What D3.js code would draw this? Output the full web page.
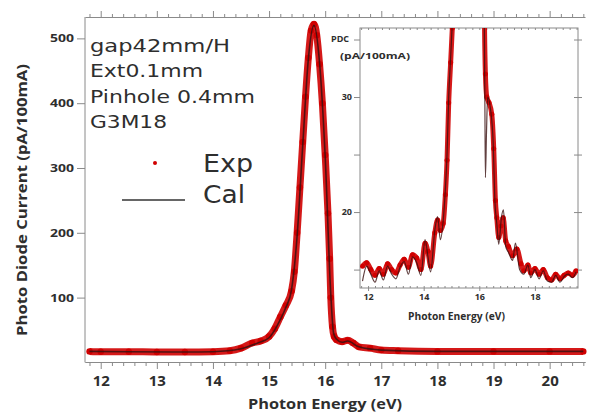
<!DOCTYPE html>
<html><head><meta charset="utf-8">
<script src="https://cdn.jsdelivr.net/npm/d3@7"></script>
<style>html,body{margin:0;padding:0;background:#fff;} svg{display:block;}</style>
</head><body><svg id="c" width="589" height="413"></svg>
<script>
// ---------- data ----------
const mainExpE = [11.8,12.0,12.5,13.0,13.5,14.0,14.3,14.5,14.7,14.85,15.0,15.1,15.2,15.3,15.4,15.45,15.5,15.55,15.6,15.65,15.7,15.75,15.8,15.85,15.9,15.95,16.0,16.05,16.08,16.1,16.13,16.16,16.2,16.3,16.4,16.5,16.6,16.8,17.0,17.3,18.0,19.0,20.0,20.6];
const mainExpV = [17,16.5,16.5,16,16,16.5,18,22,30,33,40,52,70,88,110,140,200,270,340,410,470,512,522,505,460,400,320,230,160,100,55,40,35,32,34,30,24,22,19,18,17,17,17,17];
const mainCalE = [11.8,12.5,13.5,14.0,14.5,14.8,15.0,15.2,15.3,15.4,15.5,15.6,15.7,15.8,15.9,16.0,16.1,16.15,16.2,16.3,16.4,16.6,17.0,18.0,20.6];
const mainCalV = [17,16.5,16,16.5,21,30,38,66,85,112,195,335,468,520,462,318,105,45,36,31,33,24,19,17,17];

const insetExpE = [11.8,11.95,12.1,12.25,12.4,12.55,12.7,12.85,13.0,13.15,13.3,13.45,13.6,13.75,13.9,14.05,14.15,14.25,14.4,14.5,14.6,14.7,14.78,14.84,14.9,14.97,15.03,15.1,15.5,15.8,16.1,16.18,16.22,16.27,16.35,16.45,16.52,16.58,16.63,16.7,16.78,16.86,16.95,17.05,17.2,17.35,17.5,17.6,17.75,17.85,18.0,18.15,18.3,18.45,18.6,18.75,18.9,19.05,19.2,19.35,19.48];
const insetExpV = [15.3,15.6,15.0,14.5,15.1,14.6,15.5,15.0,14.7,15.4,15.9,15.2,16.3,16.0,15.0,17.3,16.6,15.3,18.2,19.3,18.4,19.0,21.5,24.5,29.5,33,36,40,120,200,80,38,32,30,29.5,28.5,25.5,21,19.5,17.8,18.8,19.5,17.5,17,16.2,16.8,15.5,14.9,15.4,14.7,15.1,14.6,15.0,14.3,14.1,14.6,14.2,14.5,14.7,14.5,14.9];
const insetCalE = [11.8,11.95,12.1,12.25,12.4,12.55,12.7,12.85,13.0,13.15,13.3,13.45,13.6,13.75,13.9,14.05,14.15,14.25,14.4,14.5,14.6,14.7,14.78,14.84,14.9,14.97,15.03,15.1,15.5,15.8,16.1,16.17,16.2,16.22,16.26,16.3,16.4,16.5,16.56,16.63,16.7,16.8,16.87,16.95,17.05,17.2,17.3,17.45,17.6,17.75,17.85,18.0,18.15,18.3,18.45,18.6,18.75,18.9,19.05,19.2,19.35,19.48];
const insetCalV = [14.0,15.3,14.6,13.9,14.9,14.1,15.3,14.6,14.2,15.2,15.7,14.6,16.1,15.6,14.5,17.6,16.2,14.8,18.4,19.6,17.6,19.2,22,25,30,33.5,36.5,41,120,200,80,40,30,23,27,30,29,26,21,19,17.2,19.6,20.2,17,16.5,15.8,17.3,15,14.6,15.4,14.3,15,14.2,14.9,14,13.9,14.5,13.9,14.4,14.6,14.3,14.8];

const mainXTicks = [12,13,14,15,16,17,18,19,20];
const mainYTicks = [100,200,300,400,500];
const insetXTicks = [12,14,16,18];
const insetYTicks = [15,20,25,30,35];
const insetYLabels = [20,30];
const infoLines = ["gap42mm/H","Ext0.1mm","Pinhole 0.4mm","G3M18"];
const infoWidths = [140,113,165,77];
const legendNames = ["Exp","Cal"];

// ---------- setup ----------
const svg = d3.select("#c");
const AX = "#8a8a8a", TXT = "#2e2e2e", RED = "#d00000", CAL = "#3a1010";
const x = d3.scaleLinear().domain([11.72,20.63]).range([85,585]);
const y = d3.scaleLinear().domain([0,533]).range([362.4,17]);

function range(a,b,s){const r=[];for(let v=a;v<=b+1e-9;v+=s)r.push(+v.toFixed(3));return r;}

// main axes
const minorX = range(11.8,20.6,0.2).filter(v=>Math.abs(v-Math.round(v))>1e-6);
svg.append("g").attr("transform","translate(0,362)")
  .call(d3.axisBottom(x).tickValues(minorX).tickSize(4).tickFormat("").tickSizeOuter(0))
  .call(g=>{g.select(".domain").attr("stroke",AX);g.selectAll("line").attr("stroke",AX);});
const xb = svg.append("g").attr("transform","translate(0,362)")
  .call(d3.axisBottom(x).tickValues(mainXTicks).tickSize(7).tickPadding(6).tickFormat(d3.format("d")).tickSizeOuter(0));
xb.select(".domain").attr("stroke",AX);
xb.selectAll("line").attr("stroke",AX);
xb.selectAll("text").attr("fill",TXT).style("font-family","Open Sans").style("font-weight","bold").style("font-size","15px");

svg.append("g").attr("transform","translate(0,17)")
  .call(d3.axisTop(x).tickValues(minorX).tickSize(3).tickFormat("").tickSizeOuter(0))
  .call(g=>{g.select(".domain").attr("stroke",AX);g.selectAll("line").attr("stroke",AX);});
svg.append("g").attr("transform","translate(0,17)")
  .call(d3.axisTop(x).tickValues(mainXTicks).tickSize(6).tickFormat("").tickSizeOuter(0))
  .call(g=>{g.select(".domain").remove();g.selectAll("line").attr("stroke",AX);});

const yl = svg.append("g").attr("transform","translate(85,0)")
  .call(d3.axisLeft(y).tickValues(mainYTicks).tickSize(8).tickPadding(3).tickSizeOuter(0));
yl.select(".domain").attr("stroke",AX).attr("d","M0,17V362.4");
yl.selectAll("line").attr("stroke",AX);
yl.selectAll("text").attr("fill",TXT).style("font-family","Open Sans").style("font-weight","bold").style("font-size","11px")
  .attr("textLength",24).attr("lengthAdjust","spacingAndGlyphs");

svg.append("text").attr("transform","translate(27,200) rotate(-90)").attr("text-anchor","middle")
  .attr("fill",TXT).style("font-family","Open Sans").style("font-weight","bold").style("font-size","14px")
  .attr("textLength",272).attr("lengthAdjust","spacingAndGlyphs")
  .text("Photo Diode Current (pA/100mA)");
svg.append("text").attr("x",325).attr("y",409).attr("text-anchor","middle")
  .attr("fill",TXT).style("font-family","Open Sans").style("font-weight","bold").style("font-size","15px")
  .attr("textLength",154).attr("lengthAdjust","spacingAndGlyphs")
  .text("Photon Energy (eV)");

// main data
const mainExp = mainExpE.map((e,i)=>[e,mainExpV[i]]);
const mainCal = mainCalE.map((e,i)=>[e,mainCalV[i]]);
const lineM = d3.line().x(d=>x(d[0])).y(d=>y(d[1])).curve(d3.curveMonotoneX);
svg.append("path").datum(mainExp).attr("d",lineM).attr("fill","none").attr("stroke",RED).attr("stroke-width",7).attr("stroke-linejoin","round").attr("stroke-opacity",0.9);
svg.append("g").selectAll("circle").data(mainExp).join("circle")
  .attr("cx",d=>x(d[0])).attr("cy",d=>y(d[1])).attr("r",3.2).attr("fill",RED);
svg.append("path").datum(mainCal).attr("d",lineM).attr("fill","none").attr("stroke",CAL).attr("stroke-width",1.6).attr("stroke-opacity",0.85);

// info text
svg.append("g").selectAll("text").data(infoLines).join("text")
  .attr("x",90).attr("y",(d,i)=>52+i*25.3).attr("fill",TXT)
  .style("font-family","DejaVu Sans").style("font-size","17px")
  .attr("textLength",(d,i)=>infoWidths[i]).attr("lengthAdjust","spacingAndGlyphs")
  .text(d=>d);
// legend
svg.append("circle").attr("cx",155).attr("cy",163).attr("r",2).attr("fill",RED);
svg.append("line").attr("x1",122).attr("x2",185).attr("y1",200).attr("y2",200).attr("stroke","#333").attr("stroke-width",1.5);
svg.append("g").selectAll("text").data(legendNames).join("text")
  .attr("x",203).attr("y",(d,i)=>172+i*31).attr("fill",TXT)
  .style("font-family","DejaVu Sans").style("font-size","24px")
  .attr("textLength",(d,i)=>i===0?50:42).attr("lengthAdjust","spacingAndGlyphs")
  .text(d=>d);

// ---------- inset ----------
const ix = d3.scaleLinear().domain([11.71,19.55]).range([360,578]);
const iy = d3.scaleLinear().domain([13.4,36.0]).range([288,28]);
svg.append("rect").attr("x",360).attr("y",28).attr("width",218).attr("height",260).attr("fill","#fff").attr("stroke",AX).attr("stroke-width",1);
svg.append("defs").append("clipPath").attr("id","ic").append("rect").attr("x",360).attr("y",28).attr("width",218).attr("height",260);

const iMinor = range(11.75,19.5,0.25);
svg.append("g").attr("transform","translate(0,288)")
  .call(d3.axisTop(ix).tickValues(iMinor).tickSize(2).tickFormat("").tickSizeOuter(0))
  .call(g=>{g.select(".domain").remove();g.selectAll("line").attr("stroke",AX);});
const ixb = svg.append("g").attr("transform","translate(0,288)")
  .call(d3.axisBottom(ix).tickValues(insetXTicks).tickSize(3).tickPadding(3).tickFormat(d3.format("d")).tickSizeOuter(0));
ixb.select(".domain").remove();
ixb.selectAll("line").attr("stroke",AX);
ixb.selectAll("text").attr("fill",TXT).style("font-family","Open Sans").style("font-weight","bold").style("font-size","9px");
svg.append("g").attr("transform","translate(0,28)")
  .call(d3.axisBottom(ix).tickValues(iMinor).tickSize(2).tickFormat("").tickSizeOuter(0))
  .call(g=>{g.select(".domain").remove();g.selectAll("line").attr("stroke",AX);});

const iyl = svg.append("g").attr("transform","translate(360,0)")
  .call(d3.axisLeft(iy).tickValues(insetYTicks).tickSize(6).tickPadding(2).tickFormat(d=>insetYLabels.includes(d)?d:"").tickSizeOuter(0));
iyl.select(".domain").remove();
iyl.selectAll("line").attr("stroke",AX);
iyl.selectAll("text").attr("fill",TXT).style("font-family","Open Sans").style("font-weight","bold").style("font-size","9px");
svg.append("g").attr("transform","translate(578,0)")
  .call(d3.axisRight(iy).tickValues(insetYTicks).tickSize(4).tickFormat("").tickSizeOuter(0))
  .call(g=>{g.select(".domain").remove();g.selectAll("line").attr("stroke",AX).attr("x1",-4);});

svg.append("text").attr("x",408).attr("y",320).attr("text-anchor","start")
  .attr("fill",TXT).style("font-family","Open Sans").style("font-weight","bold").style("font-size","11px")
  .attr("textLength",97).attr("lengthAdjust","spacingAndGlyphs").text("Photon Energy (eV)");
svg.append("text").attr("x",331).attr("y",42).attr("fill",TXT).style("font-family","Open Sans").style("font-weight","bold").style("font-size","9px").text("PDC");
svg.append("text").attr("x",340).attr("y",59).attr("fill",TXT).style("font-family","Open Sans").style("font-weight","bold").style("font-size","9px")
  .attr("textLength",70).attr("lengthAdjust","spacingAndGlyphs").text("(pA/100mA)");

const insetExp = insetExpE.map((e,i)=>[e,insetExpV[i]]);
const insetCal = insetCalE.map((e,i)=>[e,insetCalV[i]]);
const lineI = d3.line().x(d=>ix(d[0])).y(d=>iy(d[1])).curve(d3.curveMonotoneX);
const ig = svg.append("g").attr("clip-path","url(#ic)");
ig.append("path").datum(insetExp).attr("d",lineI).attr("fill","none").attr("stroke",RED).attr("stroke-width",5).attr("stroke-linejoin","round").attr("stroke-opacity",0.9);
ig.append("g").selectAll("circle").data(insetExp).join("circle")
  .attr("cx",d=>ix(d[0])).attr("cy",d=>iy(d[1])).attr("r",2.5).attr("fill",RED);
ig.append("path").datum(insetCal).attr("d",lineI).attr("fill","none").attr("stroke",CAL).attr("stroke-width",1.2).attr("stroke-opacity",0.8);
</script></body></html>
